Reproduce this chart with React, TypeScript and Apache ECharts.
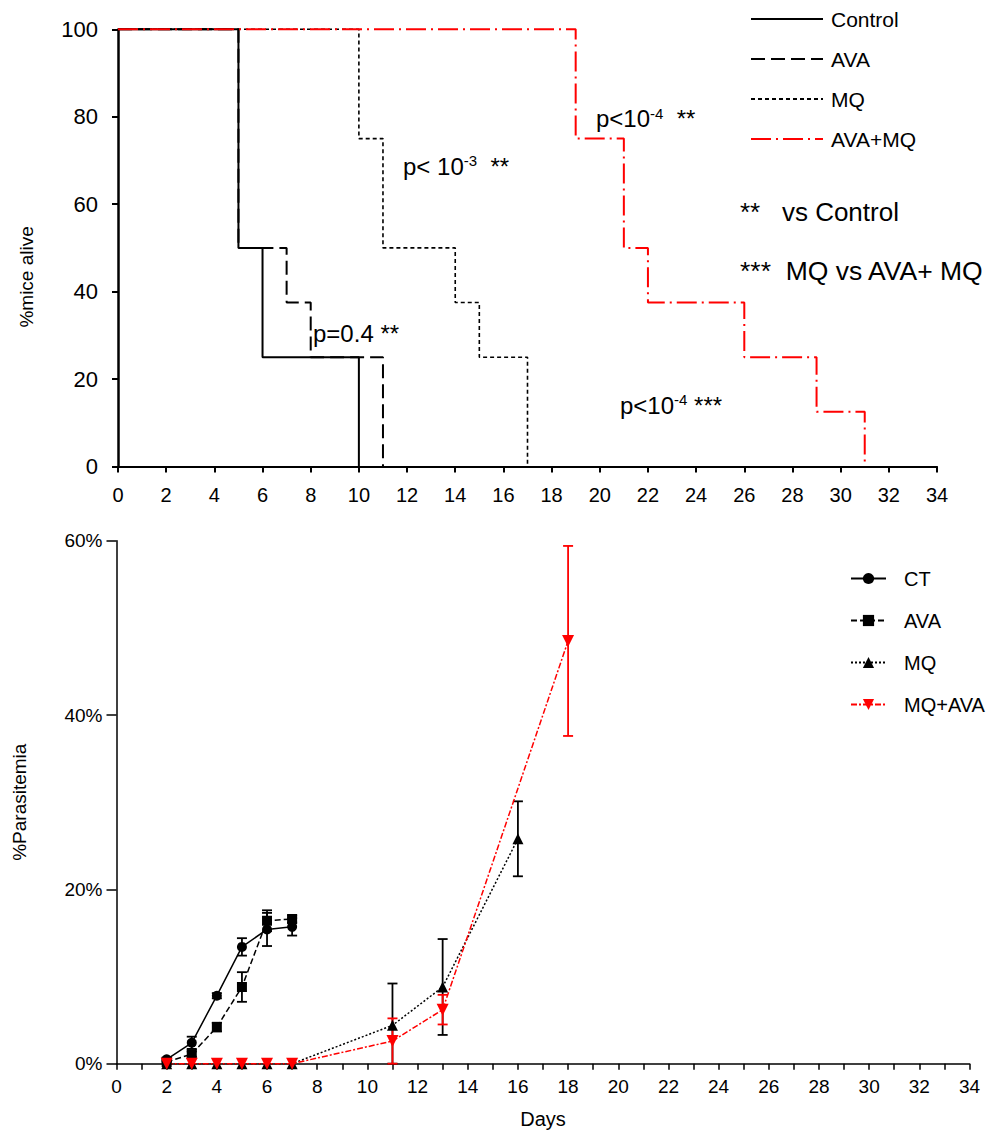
import React, { useEffect, useRef } from 'react';
import * as echarts from 'echarts';

const FONT = '"Liberation Sans", Arial, Helvetica, sans-serif';
const BLACK = '#000000';
const RED = '#ff0000';

// ---- Survival (Kaplan-Meier) data: day of each step and % mice alive after it ----
const controlDays = [0, 5, 6, 10];
const controlAlive = [100, 50, 25, 0];
const avaDays = [0, 5, 7, 8, 11];
const avaAlive = [100, 50, 37.5, 25, 0];
const mqDays = [0, 10, 11, 14, 15, 17];
const mqAlive = [100, 75, 50, 37.5, 25, 0];
const comboDays = [0, 19, 21, 22, 26, 29, 31];
const comboAlive = [100, 75, 50, 37.5, 25, 12.5, 0];

// ---- Parasitemia data (% , mean and error) ----
const earlyDays = [2, 3, 4, 5, 6, 7];
const ctMean = [0.5, 2.4, 7.8, 13.4, 15.4, 15.7];
const ctErr = [0.2, 0.7, 0.3, 1.0, 1.9, 1.0];
const avaParMean = [0.2, 1.1, 4.2, 8.8, 16.4, 16.6];
const avaParErr = [0.1, 0.3, 0.5, 1.7, 1.2, 0.4];
const mqParDays = [2, 3, 4, 5, 6, 7, 11, 13, 16];
const mqParMean = [0, 0, 0, 0, 0, 0, 4.4, 8.8, 25.8];
const mqParErr = [0, 0, 0, 0, 0, 0, 4.8, 5.5, 4.3];
const comboParDays = [2, 3, 4, 5, 6, 7, 11, 13, 18];
const comboParMean = [0, 0, 0, 0, 0, 0, 2.6, 6.2, 48.5];
const comboParErr = [0, 0, 0, 0, 0, 0, 2.6, 1.7, 10.9];

// ---- Names / labels ----
const survivalNames = ['Control', 'AVA', 'MQ', 'AVA+MQ'];
const parasiteNames = ['CT', 'AVA (parasitemia)', 'MQ (parasitemia)', 'MQ+AVA'];
const parasiteLabels: Record<string, string> = {
  CT: 'CT',
  'AVA (parasitemia)': 'AVA',
  'MQ (parasitemia)': 'MQ',
  'MQ+AVA': 'MQ+AVA',
};

const zip = (xs: number[], ys: number[]) => xs.map((x, i) => [x, ys[i]]);

function errorBars(name: string, days: number[], mean: number[], err: number[], color: string) {
  const data = days
    .map((d, i) => [d, Math.max(0, mean[i] - err[i]), mean[i] + err[i], err[i]])
    .filter((r) => r[3] > 0);
  return {
    type: 'custom',
    name,
    xAxisIndex: 1,
    yAxisIndex: 1,
    data,
    encode: { x: 0, y: [1, 2] },
    clip: false,
    silent: true,
    renderItem: (_params: any, api: any) => {
      const x = api.value(0);
      const lo = api.coord([x, api.value(1)]);
      const hi = api.coord([x, api.value(2)]);
      const hw = 5;
      const style = { stroke: color, lineWidth: 1.8 };
      return {
        type: 'group',
        children: [
          { type: 'line', shape: { x1: hi[0], y1: hi[1], x2: lo[0], y2: lo[1] }, style },
          { type: 'line', shape: { x1: hi[0] - hw, y1: hi[1], x2: hi[0] + hw, y2: hi[1] }, style },
          { type: 'line', shape: { x1: lo[0] - hw, y1: lo[1], x2: lo[0] + hw, y2: lo[1] }, style },
        ],
      };
    },
  };
}

function pText(main: string, sup: string, tail: string, x: number, y: number) {
  const parts = sup ? `{m|${main}}{s|${sup}}{m|${tail}}` : `{m|${main}${tail}}`;
  return {
    type: 'text',
    x,
    y,
    style: {
      text: parts,
      fill: BLACK,
      align: 'left',
      verticalAlign: 'middle',
      rich: {
        m: { fontSize: 24, fontFamily: FONT, fill: BLACK, lineHeight: 26, verticalAlign: 'middle' },
        s: { fontSize: 15, fontFamily: FONT, fill: BLACK, lineHeight: 15, verticalAlign: 'top' },
      },
    },
  };
}

function noteText(text: string, x: number, y: number, size: number) {
  return {
    type: 'text',
    x,
    y,
    style: { text, fill: BLACK, font: `${size}px ${FONT}`, align: 'left', verticalAlign: 'middle' },
  };
}

export default function App() {
  const ref = useRef<HTMLDivElement>(null);

  useEffect(() => {
    if (!ref.current) return;
    const chart = echarts.init(ref.current, undefined, { renderer: 'svg' });

    const survLine = (name: string, days: number[], alive: number[], color: string, width: number, type: any) => ({
      name,
      type: 'line',
      xAxisIndex: 0,
      yAxisIndex: 0,
      step: 'end',
      symbol: 'none',
      clip: false,
      data: zip(days, alive),
      lineStyle: { color, width, type },
      itemStyle: { color },
    });

    const parLine = (
      name: string,
      days: number[],
      mean: number[],
      color: string,
      type: any,
      symbol: string,
      size: number,
      rotate = 0
    ) => ({
      name,
      type: 'line',
      xAxisIndex: 1,
      yAxisIndex: 1,
      symbol,
      symbolSize: size,
      symbolRotate: rotate,
      showSymbol: true,
      clip: false,
      data: zip(days, mean),
      lineStyle: { color, width: 1.5, type },
      itemStyle: { color },
    });

    const option: any = {
      animation: false,
      backgroundColor: '#ffffff',
      textStyle: { fontFamily: FONT, color: BLACK },
      grid: [
        { left: 118, top: 29.3, width: 819, height: 437.2, containLabel: false },
        { left: 116.5, top: 540.7, width: 853, height: 523, containLabel: false },
      ],
      xAxis: [
        {
          gridIndex: 0,
          type: 'value',
          min: 0,
          max: 34,
          interval: 2,
          splitLine: { show: false },
          axisLine: { lineStyle: { color: BLACK, width: 2 } },
          axisTick: { length: 6, lineStyle: { color: BLACK, width: 2 } },
          axisLabel: { fontSize: 20, color: BLACK, fontFamily: FONT, margin: 18 },
        },
        {
          gridIndex: 1,
          type: 'value',
          min: 0,
          max: 34,
          interval: 2,
          name: 'Days',
          nameLocation: 'middle',
          nameGap: 45,
          nameTextStyle: { fontSize: 20, color: BLACK, fontFamily: FONT },
          splitLine: { show: false },
          axisLine: { lineStyle: { color: BLACK, width: 1.5 } },
          axisTick: { length: 6, lineStyle: { color: BLACK, width: 1.5 } },
          minorTick: { show: true, splitNumber: 2, length: 6, lineStyle: { color: BLACK, width: 1.5 } },
          axisLabel: { fontSize: 19, color: BLACK, fontFamily: FONT, margin: 13 },
        },
      ],
      yAxis: [
        {
          gridIndex: 0,
          type: 'value',
          min: 0,
          max: 100,
          interval: 20,
          name: '%mice alive',
          nameLocation: 'middle',
          nameGap: 82,
          nameTextStyle: { fontSize: 19, color: BLACK, fontFamily: FONT, padding: [0, 58, 0, 0] },
          splitLine: { show: false },
          axisLine: { show: true, lineStyle: { color: BLACK, width: 2.5 } },
          axisTick: { show: true, length: 6, lineStyle: { color: BLACK, width: 2 } },
          axisLabel: { fontSize: 22, color: BLACK, fontFamily: FONT, margin: 20 },
        },
        {
          gridIndex: 1,
          type: 'value',
          min: 0,
          max: 60,
          interval: 20,
          name: '%Parasitemia',
          nameLocation: 'middle',
          nameGap: 88,
          nameTextStyle: { fontSize: 19, color: BLACK, fontFamily: FONT },
          splitLine: { show: false },
          axisLine: { show: true, lineStyle: { color: BLACK, width: 1.5 } },
          axisTick: { show: true, length: 10, lineStyle: { color: BLACK, width: 1.5 } },
          axisLabel: { fontSize: 19, color: BLACK, fontFamily: FONT, margin: 14, formatter: '{value}%' },
        },
      ],
      legend: [
        {
          data: survivalNames,
          orient: 'vertical',
          left: 745,
          top: 3.5,
          itemWidth: 72,
          itemHeight: 14,
          itemGap: 19,
          selectedMode: false,
          itemStyle: { opacity: 0 },
          textStyle: { fontSize: 21, color: BLACK, fontFamily: FONT, padding: [0, 0, 0, 3] },
        },
        {
          data: parasiteNames,
          orient: 'vertical',
          left: 845,
          top: 563.5,
          itemWidth: 35,
          itemHeight: 14,
          itemGap: 22,
          selectedMode: false,
          formatter: (n: string) => parasiteLabels[n] ?? n,
          textStyle: { fontSize: 20, color: BLACK, fontFamily: FONT, padding: [0, 0, 0, 13] },
        },
      ],
      series: [
        survLine('Control', controlDays, controlAlive, BLACK, 2, 'solid'),
        survLine('AVA', avaDays, avaAlive, BLACK, 2, [14, 6]),
        survLine('MQ', mqDays, mqAlive, BLACK, 1.6, [4, 3]),
        survLine('AVA+MQ', comboDays, comboAlive, RED, 2, [20, 5, 2, 5]),
        errorBars('CT error', earlyDays, ctMean, ctErr, BLACK),
        errorBars('AVA error', earlyDays, avaParMean, avaParErr, BLACK),
        errorBars('MQ error', mqParDays, mqParMean, mqParErr, BLACK),
        parLine('CT', earlyDays, ctMean, BLACK, 'solid', 'circle', 10),
        parLine('AVA (parasitemia)', earlyDays, avaParMean, BLACK, [6, 3], 'rect', 10),
        parLine('MQ (parasitemia)', mqParDays, mqParMean, BLACK, [2, 2], 'triangle', 11),
        errorBars('MQ+AVA error', comboParDays, comboParMean, comboParErr, RED),
        parLine('MQ+AVA', comboParDays, comboParMean, RED, [6, 2, 2, 2], 'triangle', 12, 180),
      ],
      graphic: [
        pText('p< 10', '-3', '  **', 403, 166),
        pText('p<10', '-4', '  **', 596, 118.5),
        pText('p=0.4', '', ' **', 313, 333.5),
        pText('p<10', '-4', ' ***', 620, 405),
        noteText('**   vs Control', 740, 212, 26),
        noteText('***  MQ vs AVA+ MQ', 740, 271, 26.5),
      ],
    };

    chart.setOption(option);
    return () => chart.dispose();
  }, []);

  return (
    <div
      ref={ref}
      style={{ position: 'absolute', left: 0, top: 0, width: 991, height: 1130, background: '#fff' }}
    />
  );
}
